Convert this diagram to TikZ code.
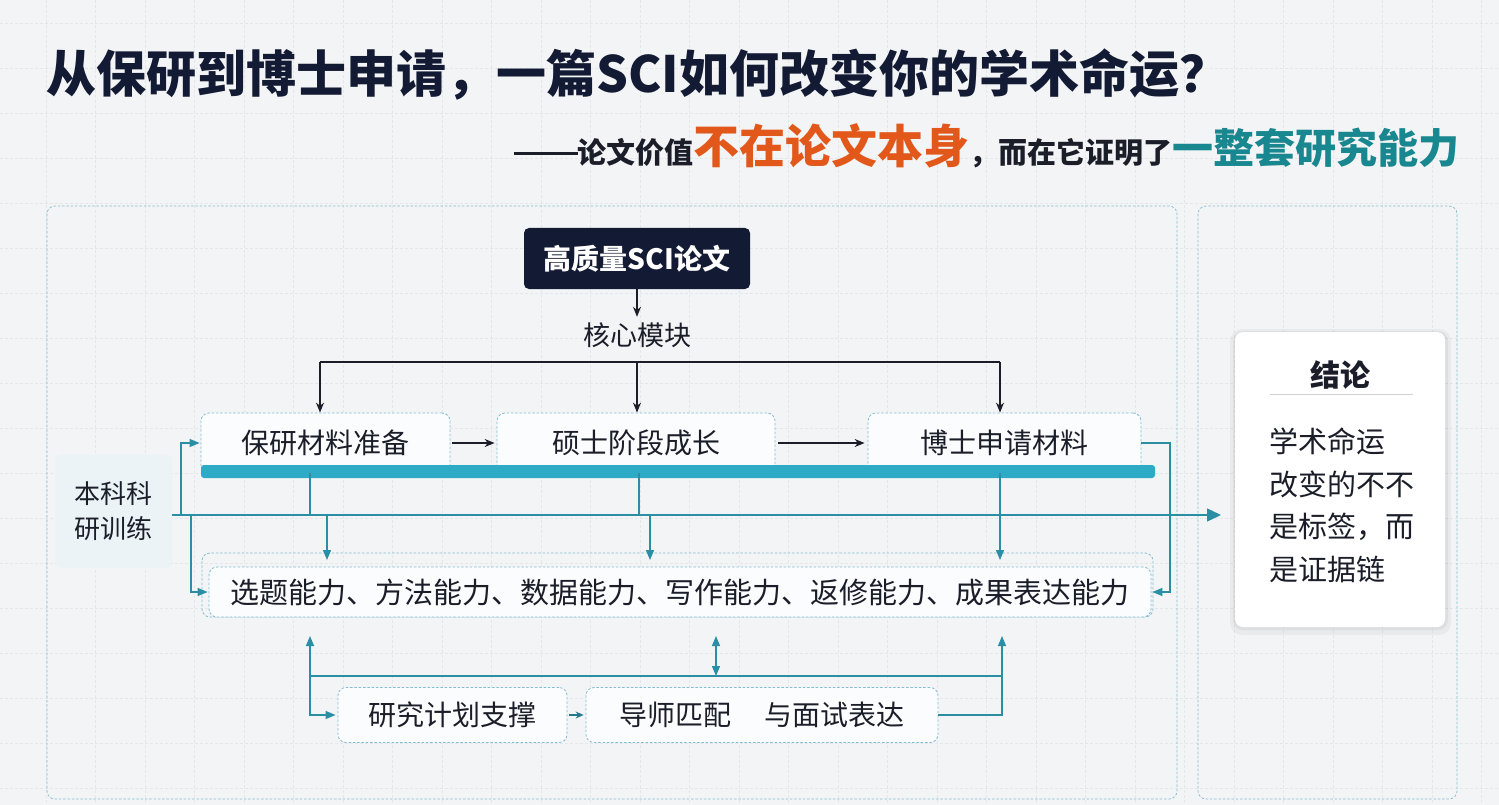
\documentclass[tikz,border=0pt]{standalone}
\usepackage{fontspec}
\setmainfont{Noto Sans CJK SC}
\usetikzlibrary{arrows.meta,calc}
\definecolor{bg}{HTML}{F3F4F5}
\definecolor{gridc}{HTML}{E4E7EA}
\definecolor{navy}{HTML}{131A33}
\definecolor{ink}{HTML}{1B1E29}
\definecolor{orangec}{HTML}{E2581A}
\definecolor{tealt}{HTML}{18878F}
\definecolor{tline}{HTML}{2A8EA5}
\definecolor{tbar}{HTML}{2DAAC6}
\definecolor{dashc}{HTML}{84BCD0}
\definecolor{boxfill}{HTML}{FAFCFD}
\definecolor{ugfill}{HTML}{ECF3F6}
\tikzset{
  dbox/.style={draw=dashc, dash pattern=on 2.5pt off 1.8pt, line width=0.8pt, fill=boxfill, rounded corners=8pt, inner sep=0pt, text=ink},
  panel/.style={draw=dashc, dash pattern=on 2.5pt off 1.8pt, line width=0.7pt, rounded corners=8pt},
  lbl/.style={font=\fontsize{28}{32}\selectfont},
  tl/.style={draw=tline, line width=1.3pt},
  tarr/.style={tl, -{Triangle[length=10pt,width=8pt]}},
  tdbl/.style={tl, {Triangle[length=10pt,width=8pt]}-{Triangle[length=10pt,width=8pt]}},
  darr/.style={draw=ink, line width=1.2pt, -{Stealth[length=10pt,width=8pt]}},
}
\begin{document}
\begin{tikzpicture}[x=1pt,y=-1pt]
\useasboundingbox (0,0) rectangle (1499,805);
\fill[bg] (0,0) rectangle (1499,805);
% grid
\foreach \i in {0,...,30} {\draw[gridc, dash pattern=on 3pt off 2pt, line width=0.5pt] ({46+49.5*\i},0) -- ({46+49.5*\i},805);}
\foreach \j in {0,...,17} {\draw[gridc, dash pattern=on 3pt off 2pt, line width=0.5pt] (0,{23+45*\j}) -- (1499,{23+45*\j});}
% panels
\draw[panel] (47,206) rectangle (1177,799);
\draw[panel] (1198,206) rectangle (1457,799);

% title
\node[anchor=west, inner sep=0pt, text=navy, font=\fontsize{50}{60}\selectfont\bfseries] (title) at (46,75) {从保研到博士申请，一篇SCI如何改变你的学术命运？};
\node[anchor=east, inner sep=0pt] (sub) at (1460,146) {\bfseries\fontsize{29}{34}\selectfont\color{ink}\raisebox{9pt}{\rule{64pt}{2.2pt}}论文价值\fontsize{46}{50}\selectfont\color{orangec}不在论文本身\fontsize{29}{34}\selectfont\color{ink}，而在它证明了\fontsize{41}{46}\selectfont\color{tealt}一整套研究能力};

% top
\node[fill=navy, rounded corners=5pt, text=white, font=\fontsize{28}{32}\selectfont\bfseries, minimum width=226pt, minimum height=61pt, inner sep=0pt] (sci) at (637,258.5) {高质量SCI论文};
\node[inner sep=0pt, minimum height=36pt, text=ink, font=\fontsize{27}{30}\selectfont] (core) at (637,335) {核心模块};
\draw[darr] (sci.south) -- (core.north);

% module boxes
\node[dbox, lbl, minimum width=249pt, minimum height=60pt] (b1) at (325.5,443) {保研材料准备};
\node[dbox, lbl, minimum width=278pt, minimum height=60pt] (b2) at (636,443) {硕士阶段成长};
\node[dbox, lbl, minimum width=273pt, minimum height=60pt] (b3) at (1004.5,443) {博士申请材料};
\node[fill=tbar, rounded corners=3pt, minimum width=954pt, minimum height=13pt, inner sep=0pt] (bar) at (678,471.5) {};
\draw[darr] ([xshift=2pt]b1.east) -- ([xshift=-2pt]b2.west);
\draw[darr] ([xshift=3pt]b2.east) -- ([xshift=-3pt]b3.west);

% hub
\coordinate (hL) at (320,362);
\coordinate (hC) at (637,362);
\coordinate (hR) at (1000,362);
\draw[ink, line width=1.2pt] (hL) -- (hR);
\draw[darr] (hL) -- (hL |- b1.north);
\draw[darr] (hC) -- (hC |- b2.north);
\draw[darr] (hR) -- (hR |- b3.north);

% undergrad
\node[fill=ugfill, rounded corners=6pt, minimum width=117pt, minimum height=113pt, inner sep=0pt, align=center, text=ink, font=\fontsize{26}{35}\selectfont] (ug) at (113.5,511) {本科科\\研训练};

% conclusion card
\fill[black, opacity=0.04, rounded corners=12pt] (1230,329) rectangle (1451,635);
\fill[black, opacity=0.05, rounded corners=10pt] (1233,331) rectangle (1448,630);
\node[fill=white, rounded corners=8pt, minimum width=210pt, minimum height=295pt, inner sep=0pt] (concl) at (1340,479.5) {};
\node[text=ink, inner sep=0pt, font=\fontsize{30}{34}\selectfont\bfseries] (ctitle) at (1340,375) {结论};
\draw[gray!35, line width=1pt] (1270,394) -- (1413,394);
\node[anchor=north west, inner sep=0pt, align=left, text=ink, font=\fontsize{29}{42.5}\selectfont] (cbody) at (1269,428) {学术命运\\改变的不不\\是标签，而\\是证据链};

% abilities
\draw[panel, line width=0.8pt] (202,553) rectangle (1153,617);
\node[dbox, font=\fontsize{29}{32}\selectfont, minimum width=942pt, minimum height=50pt] (ab) at (680,592) {选题能力、方法能力、数据能力、写作能力、返修能力、成果表达能力};

% main teal line
\coordinate (mL) at (172,515);
\coordinate (mR) at (1221,515);
\draw[tl, -{Triangle[length=14pt,width=13pt]}] (mL) -- (mR);
\draw[tl] (b1.south -| 310,0) -- (310,515);
\draw[tl] (b2.south -| 639,0) -- (639,515);
\draw[tarr] (327,515) -- (327,560);
\draw[tarr] (650,515) -- (650,560);
\draw[tarr] (b3.south -| 1000,0) -- (1000,560);
\draw[tarr] (181,515) |- ([xshift=-1pt]b1.west);
\draw[tarr] (191,515) |- ([xshift=-1pt]ab.west);
\draw[tarr] (b3.east) -- (1170,443) |- ([xshift=1pt]ab.east);

% bottom
\node[dbox, lbl, minimum width=229pt, minimum height=55pt] (rp) at (452.5,715) {研究计划支撑};
\node[dbox, lbl, minimum width=352pt, minimum height=55pt] (mi) at (762,715) {导师匹配\hspace{1.15em}与面试表达};
\draw[draw=tline!80!ink, line width=1.2pt, -{Stealth[length=8pt,width=7pt]}] ([xshift=2pt]rp.east) -- ([xshift=-2pt]mi.west);
\coordinate (uL) at (310,636);
\coordinate (uC) at (716,636);
\coordinate (uR) at (1002,636);
\draw[tl] (310,676) -- (1002,676);
\draw[tdbl] (uL) |- ([xshift=-2pt]rp.west);
\draw[tdbl] (uC) -- (716,676);
\draw[tarr] (mi.east) -| (uR);
\end{tikzpicture}
\end{document}
